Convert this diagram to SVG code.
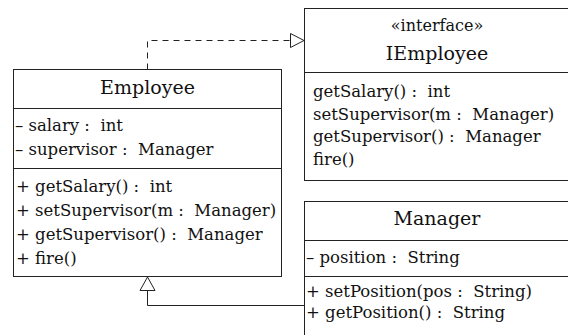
<svg xmlns="http://www.w3.org/2000/svg" width="568" height="335" viewBox="0 0 568 335">
  <style>
    .box { fill: #ffffff; stroke: #222222; stroke-width: 1; }
    .sep { stroke: #222222; stroke-width: 1; }
    .title { font-size: 19px; text-anchor: middle; }
    .stereo { font-size: 16px; text-anchor: middle; }
    .member { font-size: 16.5px; }
    .edge { fill: none; stroke: #222222; stroke-width: 1; }
    .dashed { stroke-dasharray: 6 5; }
    .head { fill: #ffffff; stroke: #222222; stroke-width: 1; }
  </style>

  <!-- connectors -->
  <g id="connectors">
    <!-- realization: Employee implements IEmployee -->
    <polyline class="edge dashed" points="147.5,69.5 147.5,40.5 290.5,40.5"/>
    <polygon class="head" points="290.5,33.5 304,40.5 290.5,47.5"/>
    <!-- generalization: Manager extends Employee -->
    <polyline class="edge" points="304,305.5 147.5,305.5 147.5,290.5"/>
    <polygon class="head" points="140,290.5 147.5,277 155,290.5"/>
  </g>

  <g font-family="DejaVu Serif, serif" fill="#111111">
    <!-- Employee class -->
    <g id="employee">
      <rect class="box" x="13.5" y="69.5" width="268" height="207"/>
      <line class="sep" x1="13.5" y1="108.5" x2="281.5" y2="108.5"/>
      <line class="sep" x1="13.5" y1="168.5" x2="281.5" y2="168.5"/>
      <text class="title" x="147.5" y="94">Employee</text>
      <text class="member" xml:space="preserve" x="15" y="131">– salary :  int</text>
      <text class="member" xml:space="preserve" x="15" y="155">– supervisor :  Manager</text>
      <text class="member" xml:space="preserve" x="16" y="192">+ getSalary() :  int</text>
      <text class="member" xml:space="preserve" x="16" y="216">+ setSupervisor(m :  Manager)</text>
      <text class="member" xml:space="preserve" x="16" y="240">+ getSupervisor() :  Manager</text>
      <text class="member" xml:space="preserve" x="16" y="264">+ fire()</text>
    </g>

    <!-- IEmployee interface -->
    <g id="iemployee">
      <rect class="box" x="304.5" y="8.5" width="270" height="172"/>
      <line class="sep" x1="304.5" y1="72.5" x2="574" y2="72.5"/>
      <text class="stereo" x="437" y="31">«interface»</text>
      <text class="title" x="437" y="60">IEmployee</text>
      <text class="member" xml:space="preserve" x="313" y="96.5">getSalary() :  int</text>
      <text class="member" xml:space="preserve" x="313" y="119.5">setSupervisor(m :  Manager)</text>
      <text class="member" xml:space="preserve" x="313" y="142">getSupervisor() :  Manager</text>
      <text class="member" xml:space="preserve" x="313" y="165">fire()</text>
    </g>

    <!-- Manager class -->
    <g id="manager">
      <rect class="box" x="304.5" y="201.5" width="270" height="145"/>
      <line class="sep" x1="304.5" y1="240.5" x2="574" y2="240.5"/>
      <line class="sep" x1="304.5" y1="276.5" x2="574" y2="276.5"/>
      <text class="title" x="437" y="225">Manager</text>
      <text class="member" xml:space="preserve" x="306" y="262.7">– position :  String</text>
      <text class="member" xml:space="preserve" x="306" y="296.7">+ setPosition(pos :  String)</text>
      <text class="member" xml:space="preserve" x="306" y="318.3">+ getPosition() :  String</text>
    </g>
  </g>
</svg>
